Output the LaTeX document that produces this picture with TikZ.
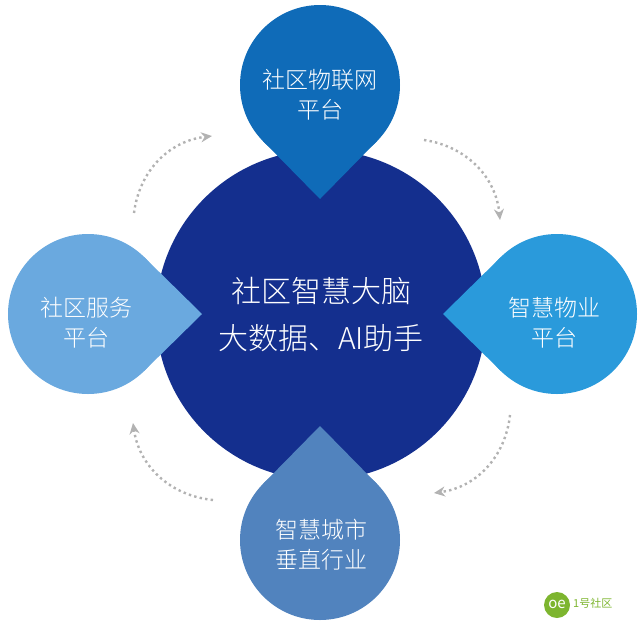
\documentclass[tikz,border=0pt]{standalone}
\usepackage{fontspec}
\setmainfont{Noto Sans CJK SC Light}
\newfontfamily\logofont{Noto Sans CJK SC}
\usetikzlibrary{arrows.meta}
\definecolor{brainblue}{HTML}{142F8E}
\definecolor{topblue}{HTML}{0F6BB8}
\definecolor{leftblue}{HTML}{6AA9DF}
\definecolor{rightblue}{HTML}{2A9ADB}
\definecolor{bottomblue}{HTML}{5183BE}
\definecolor{logogreen}{HTML}{7DB52F}
\tikzset{
  drop/.pic={
    \fill[pic actions] (0,0) circle[radius=80pt];
    \fill[pic actions] (-57,56) -- (0,114) -- (57,56) -- cycle;
  },
  label/.style={align=center,text=white,font=\fontsize{23}{30}\selectfont},
  cycle/.style={->,>={Stealth[open,length=11pt,width=10pt]},draw=black!30,line width=2.4pt,
    dash pattern=on 2.4pt off 3.2pt}
}
\begin{document}
\begin{tikzpicture}[x=1pt,y=-1pt]
\useasboundingbox (0,0) rectangle (640,625);
\fill[brainblue] (321,315) circle[radius=165pt];
\pic[fill=topblue] at (320,85) {drop};
\pic[fill=leftblue,rotate=90] at (88,314) {drop};
\pic[fill=rightblue,rotate=-90] at (557,314) {drop};
\pic[fill=bottomblue,rotate=180] at (320,540) {drop};
\node[label] (iot) at (320,95) {社区物联网\\平台};
\node[label] (service) at (86,323) {社区服务\\平台};
\node[label] (property) at (554,323) {智慧物业\\平台};
\node[label] (city) at (321,545) {智慧城市\\垂直行业};
\node[align=center,text=white,font=\fontsize{30}{47}\selectfont] (brain) at (321,315) {社区智慧大脑\\大数据、AI助手};
\coordinate (a1) at (424,140);
\coordinate (a2) at (500,220);
\coordinate (b1) at (510,415);
\coordinate (b2) at (434,493);
\coordinate (c1) at (213,500);
\coordinate (c2) at (133,423);
\coordinate (d1) at (134,213);
\coordinate (d2) at (212,136);
\draw[cycle] (a1) to[bend left=38] (a2);
\draw[cycle] (b1) to[bend left=38] (b2);
\draw[cycle] (c1) to[bend left=38] (c2);
\draw[cycle] (d1) to[bend left=38] (d2);
\fill[logogreen] (557,605) circle[radius=13pt];
\node[text=white,font=\logofont\fontsize{15}{15}\selectfont] (logo) at (557,604) {oe};
\node[text=logogreen,font=\logofont\fontsize{11}{11}\selectfont,anchor=west,inner sep=0pt] (brand) at (573,603) {1号社区};
\end{tikzpicture}
\end{document}
